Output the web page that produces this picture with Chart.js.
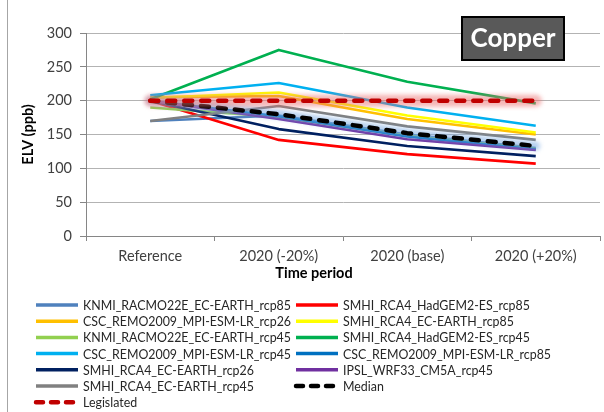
<!DOCTYPE html>
<html>
<head>
<meta charset="utf-8">
<script src="https://cdn.jsdelivr.net/npm/chart.js@4/dist/chart.umd.min.js"></script>
<style>
  html, body { margin: 0; padding: 0; background: #fff; }
  #wrap { position: relative; width: 604px; height: 412px; }
</style>
</head>
<body>
<div id="wrap"><canvas id="c" width="604" height="412"></canvas></div>
<script>
// Time periods on the x axis
const categories = ['Reference', '2020 (-20%)', '2020 (base)', '2020 (+20%)'];

// Copper ELV (ppb) per climate model run
const knmiEcEarth85   = [170, 178, 150, 130];
const smhiHadGem85    = [200, 142, 121, 107];
const cscMpi26        = [205, 207, 173, 150];
const smhiEcEarth85   = [204, 212, 178, 153];
const knmiEcEarth45   = [190, 176, 148, 129];
const smhiHadGem45    = [202, 275, 228, 196];
const cscMpi45        = [208, 226, 190, 163];
const cscMpi85        = [200, 177, 147, 128];
const smhiEcEarth26   = [200, 158, 133, 118];
const ipslCm5a45      = [200, 173, 143, 127];
const smhiEcEarth45   = [170, 192, 162, 142];
const medianValues    = [200, 180, 152, 133];
const legislated      = [200, 200, 200, 200];

const yTicks = [0, 50, 100, 150, 200, 250, 300];

const series = [
  { label: 'KNMI_RACMO22E_EC-EARTH_rcp85', data: knmiEcEarth85, color: '#4F81BD' },
  { label: 'SMHI_RCA4_HadGEM2-ES_rcp85', data: smhiHadGem85, color: '#FF0000' },
  { label: 'CSC_REMO2009_MPI-ESM-LR_rcp26', data: cscMpi26, color: '#FFC000' },
  { label: 'SMHI_RCA4_EC-EARTH_rcp85', data: smhiEcEarth85, color: '#FFFF00' },
  { label: 'KNMI_RACMO22E_EC-EARTH_rcp45', data: knmiEcEarth45, color: '#92D050' },
  { label: 'SMHI_RCA4_HadGEM2-ES_rcp45', data: smhiHadGem45, color: '#00B050' },
  { label: 'CSC_REMO2009_MPI-ESM-LR_rcp45', data: cscMpi45, color: '#00B0F0' },
  { label: 'CSC_REMO2009_MPI-ESM-LR_rcp85', data: cscMpi85, color: '#0070C0' },
  { label: 'SMHI_RCA4_EC-EARTH_rcp26', data: smhiEcEarth26, color: '#002060' },
  { label: 'IPSL_WRF33_CM5A_rcp45', data: ipslCm5a45, color: '#7030A0' },
  { label: 'SMHI_RCA4_EC-EARTH_rcp45', data: smhiEcEarth45, color: '#808080' },
  { label: 'Median', data: medianValues, color: '#000000', dash: [8, 9], width: 4.5,
    glow: 'rgba(120,170,225,0.55)', glowWidth: 9 },
  { label: 'Legislated', data: legislated, color: '#C00000', dash: [8, 9], width: 4.5,
    glow: 'rgba(235,110,110,0.5)', glowWidth: 12 }
];

const datasets = series.map((s, i) => ({
  label: s.label,
  data: s.data,
  borderColor: s.color,
  backgroundColor: s.color,
  borderWidth: s.width || 2.6,
  borderDash: s.dash || [],
  borderCapStyle: s.dash ? 'round' : 'butt',
  borderJoinStyle: 'round',
  pointRadius: 0,
  pointHoverRadius: 0,
  tension: 0,
  fill: false,
  order: series.length - i,
  glow: s.glow,
  glowWidth: s.glowWidth
}));

const FONT = 'Lato, "Open Sans", sans-serif';

// soft halo drawn under the dashed reference lines
const glowPlugin = {
  id: 'glow',
  beforeDatasetDraw(chart, args) {
    const ds = chart.data.datasets[args.index];
    if (!ds.glow) return;
    const pts = args.meta.data;
    const ctx = chart.ctx;
    ctx.save();
    ctx.strokeStyle = ds.glow;
    ctx.lineWidth = ds.glowWidth;
    ctx.lineJoin = 'round';
    ctx.lineCap = 'round';
    ctx.filter = 'blur(2px)';
    ctx.beginPath();
    pts.forEach((p, i) => i ? ctx.lineTo(p.x, p.y) : ctx.moveTo(p.x, p.y));
    ctx.stroke();
    ctx.restore();
  }
};

// frame, title box, x-axis title and two-column legend
const decorPlugin = {
  id: 'decor',
  afterDraw(chart) {
    const ctx = chart.ctx;
    ctx.save();
    // chart frame edge
    ctx.strokeStyle = '#A6A6A6';
    ctx.lineWidth = 1;
    ctx.beginPath();
    ctx.moveTo(7.5, 0);
    ctx.lineTo(7.5, 412);
    ctx.stroke();

    // "Copper" label box
    ctx.fillStyle = '#595959';
    ctx.fillRect(462, 17, 102, 43);
    ctx.strokeStyle = '#000';
    ctx.lineWidth = 2;
    ctx.strokeRect(462, 17, 102, 43);
    ctx.fillStyle = '#fff';
    ctx.font = 'bold 26px ' + FONT;
    ctx.textAlign = 'center';
    ctx.textBaseline = 'middle';
    ctx.fillText('Copper', 513, 39);

    // x-axis title
    const xs = chart.scales.x;
    ctx.fillStyle = '#000';
    ctx.font = 'bold 14.5px ' + FONT;
    ctx.fillText('Time period', (xs.left + xs.right) / 2 - 29, 273);

    // legend, two columns filled row by row
    ctx.font = '12.4px ' + FONT;
    ctx.textAlign = 'left';
    chart.data.datasets.forEach((ds, i) => {
      const row = Math.floor(i / 2);
      const col = i % 2;
      const x0 = col ? 296 : 36;
      const y = 305 + row * 16.2;
      ctx.strokeStyle = ds.borderColor;
      ctx.lineWidth = ds.borderDash.length ? 4.5 : 3.5;
      ctx.lineCap = ds.borderDash.length ? 'round' : 'butt';
      ctx.setLineDash(ds.borderDash.length ? [7, 8] : []);
      ctx.beginPath();
      ctx.moveTo(x0, y);
      ctx.lineTo(x0 + 42, y);
      ctx.stroke();
      ctx.setLineDash([]);
      ctx.fillStyle = '#262626';
      ctx.fillText(ds.label, x0 + 47, y + 1);
    });
    ctx.restore();
  }
};

new Chart(document.getElementById('c'), {
  type: 'line',
  data: { labels: categories, datasets },
  options: {
    responsive: false,
    animation: false,
    events: [],
    layout: { padding: { top: 33, right: 4, bottom: 126, left: 0 } },
    plugins: { legend: { display: false }, tooltip: { enabled: false } },
    scales: {
      x: {
        type: 'category',
        offset: true,
        afterFit(scale) { scale.height = 50; },
        grid: {
          display: true,
          offset: true,
          drawOnChartArea: false,
          drawTicks: true,
          tickLength: 5,
          tickColor: '#868686'
        },
        border: { color: '#868686', width: 1 },
        ticks: { color: '#404040', padding: 7, font: { family: FONT, size: 14.5 } }
      },
      y: {
        min: 0,
        max: 300,
        afterFit(scale) { scale.width = 86; },
        afterBuildTicks(scale) { scale.ticks = yTicks.map(v => ({ value: v })); },
        grid: {
          color: '#B3B3B3',
          lineWidth: 1,
          tickLength: 6,
          tickColor: '#868686'
        },
        border: { color: '#868686', width: 1 },
        ticks: { color: '#404040', padding: 8, font: { family: FONT, size: 14.5 } },
        title: {
          display: true,
          text: 'ELV (ppb)',
          color: '#000',
          font: { family: FONT, size: 14.5, weight: 'bold' },
          padding: { top: 20, bottom: 0 }
        }
      }
    }
  },
  plugins: [glowPlugin, decorPlugin]
});
</script>
</body>
</html>
